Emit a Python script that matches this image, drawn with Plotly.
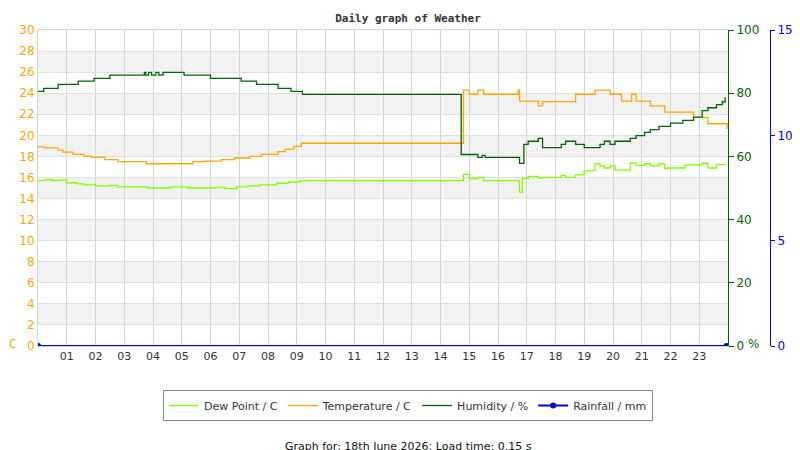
import plotly.graph_objects as go

# hours of day
hum_t = [0, 0.2, 0.7, 1.4, 1.95, 2.5, 3.7, 3.75, 3.85, 3.95, 4.1, 4.2, 4.35, 4.6, 5.08, 6.0, 7.07, 7.6, 8.35, 8.8, 9.2,
         14.72, 15.3, 15.45, 15.55, 16.75, 16.9, 17.05, 17.4, 17.55, 18.2, 18.35, 18.7, 19.0, 19.55, 19.7, 19.9, 20.07,
         20.6, 20.8, 21.1, 21.3, 21.6, 22.0, 22.43, 22.8, 23.1, 23.3, 23.6, 23.8, 23.9]
humidity = [80.6, 81.5, 82.8, 83.8, 84.7, 85.7, 86.6, 85.7, 86.6, 85.7, 86.6, 85.7, 86.6, 86.6, 85.7, 84.7, 83.8, 82.8,
            81.5, 80.6, 79.6, 60.6, 59.7, 60.3, 59.7, 57.8, 63.8, 64.8, 65.7, 62.8, 63.8, 64.8, 63.8, 62.8, 63.8,
            64.8, 63.8, 64.8, 65.7, 66.6, 67.6, 68.5, 69.5, 70.5, 71.4, 72.4, 74.5, 75.4, 76.4, 77.3, 78.7]

temp_t = [0, 0.23, 0.7, 0.87, 1.22, 1.6, 1.85, 2.32, 2.78, 3.77, 5.39, 5.8, 6.38, 6.84, 7.36, 7.77, 8.35, 8.6, 8.9, 9.16,
          14.72, 14.8, 15.0, 15.3, 15.5, 16.7, 16.75, 17.4, 17.55, 18.7, 19.37, 19.9, 20.3, 20.65, 20.8, 21.3, 21.8,
          22.8, 23.3, 23.97]
temperature = [18.9, 18.8, 18.6, 18.4, 18.2, 18.0, 17.9, 17.7, 17.5, 17.3, 17.5, 17.55, 17.7, 17.85, 18.0, 18.2,
               18.45, 18.7, 18.95, 19.25, 19.25, 24.3, 23.9, 24.3, 23.9, 24.3, 23.25, 22.8, 23.2, 23.9, 24.3, 23.9,
               23.25, 23.9, 23.25, 22.8, 22.2, 21.7, 21.1, 20.6]

dew_t = [0, 0.25, 0.5, 0.7, 1.0, 1.35, 1.6, 2.0, 2.5, 2.75, 3.8, 4.6, 5.2, 6.2, 6.5, 6.9, 7.3, 7.7, 8.3, 8.7, 9.1,
         14.72, 14.8, 15.0, 15.3, 15.5, 16.7, 16.75, 16.85, 17.05, 17.4, 17.55, 18.2, 18.35, 18.7, 19.0, 19.37, 19.55,
         19.7, 19.9, 20.07, 20.6, 20.8, 21.1, 21.3, 21.6, 21.8, 21.9, 22.5, 23.1, 23.3, 23.6, 23.9]
dew_point = [15.7, 15.8, 15.7, 15.75, 15.5, 15.4, 15.3, 15.2, 15.25, 15.1, 15.0, 15.1, 15.0, 15.05, 14.95, 15.1,
             15.2, 15.3, 15.45, 15.55, 15.7, 15.7, 16.3, 15.9, 16.0, 15.7, 15.7, 14.6, 15.9, 16.1, 15.95, 16.0,
             16.2, 16.0, 16.25, 16.65, 17.3, 17.1, 16.9, 17.1, 16.7, 17.35, 17.15, 17.3, 17.1, 17.3, 16.85, 16.9,
             17.2, 17.35, 16.9, 17.25, 17.2]

rain_t = [0, 23.95]
rainfall = [0, 0]

hour_ticks = list(range(1, 24))
hour_labels = [f"{h:02d}" for h in hour_ticks]

fig = go.Figure()
fig.add_trace(go.Scatter(x=dew_t, y=dew_point, name="Dew Point / C", line=dict(color="#7fff00", width=1.3, shape="hv")))
fig.add_trace(go.Scatter(x=temp_t, y=temperature, name="Temperature / C", line=dict(color="#ffa500", width=1.3, shape="hv")))
fig.add_trace(go.Scatter(x=hum_t, y=humidity, name="Humidity / %", yaxis="y2", line=dict(color="#006400", width=1.3, shape="hv")))
fig.add_trace(go.Scatter(x=rain_t, y=rainfall, name="Rainfall / mm", yaxis="y3", line=dict(color="#0000cc", width=2)))

# alternating grey bands
for lo in range(2, 30, 4):
    fig.add_shape(type="rect", xref="x", yref="y", x0=0, x1=24, y0=lo, y1=lo + 2,
                  fillcolor="#f2f2f2", line_width=0, layer="below")

fig.update_layout(
    width=800, height=450,
    margin=dict(l=30, r=38, t=22, b=112),
    paper_bgcolor="white", plot_bgcolor="white",
    font=dict(family="DejaVu Sans", size=11, color="#333"),
    title=dict(text="<b>Daily graph of Weather</b>", x=0.5, y=0.985, yanchor="top",
               font=dict(family="DejaVu Sans Mono", size=11, color="#333")),
    xaxis=dict(range=[0, 24], domain=[0, 690 / 732], tickvals=hour_ticks, ticktext=hour_labels,
               showgrid=True, gridcolor="#d3d3d3", zeroline=False, showline=True, linecolor="#d3d3d3",
               mirror=True, ticks="", tickfont=dict(size=11, color="#333")),
    yaxis=dict(range=[0, 30], dtick=2, showgrid=True, gridcolor="#e0e0e0", zeroline=False,
               showline=True, linecolor="#d3d3d3", tickfont=dict(color="#ffa500", size=12)),
    yaxis2=dict(range=[0, 100], dtick=20, overlaying="y", side="right", anchor="x", showgrid=False,
                zeroline=False, showline=True, linecolor="#006400", ticks="outside", ticklen=5,
                tickcolor="#006400", tickfont=dict(color="#006400", size=12)),
    yaxis3=dict(range=[0, 15], dtick=5, overlaying="y", side="right", anchor="free", position=1.0,
                showgrid=False, zeroline=False, showline=True, linecolor="#0000ff", ticks="outside",
                ticklen=4, tickcolor="#0000ff", tickfont=dict(color="#0000ff", size=12)),
    showlegend=True,
    legend=dict(orientation="h", xref="container", yref="container", x=0.5, xanchor="center",
                y=1 - 382 / 450, yanchor="top", bordercolor="#888", borderwidth=1,
                font=dict(size=11, color="#333"), itemwidth=30),
    annotations=[
        dict(text="C", xref="paper", yref="paper", x=-0.035, y=0.005, showarrow=False,
             font=dict(color="#ffa500", size=12, family="DejaVu Sans Mono"), xanchor="center", yanchor="middle"),
        dict(text="%", xref="paper", yref="paper", x=715 / 732, y=0.005, showarrow=False,
             font=dict(color="#006400", size=12), xanchor="center", yanchor="middle"),
        dict(text="mm", xref="paper", yref="paper", x=755 / 732, y=0.0, showarrow=False,
             font=dict(color="#0000ff", size=11), xanchor="left", yanchor="middle"),
        dict(text="Graph for: 18th June 2026; Load time: 0.15 s", xref="paper", yref="paper",
             x=370 / 732, y=-100 / 316, showarrow=False, font=dict(size=11, color="#111"),
             xanchor="center", yanchor="middle"),
    ],
)

fig.write_html("out.html")
